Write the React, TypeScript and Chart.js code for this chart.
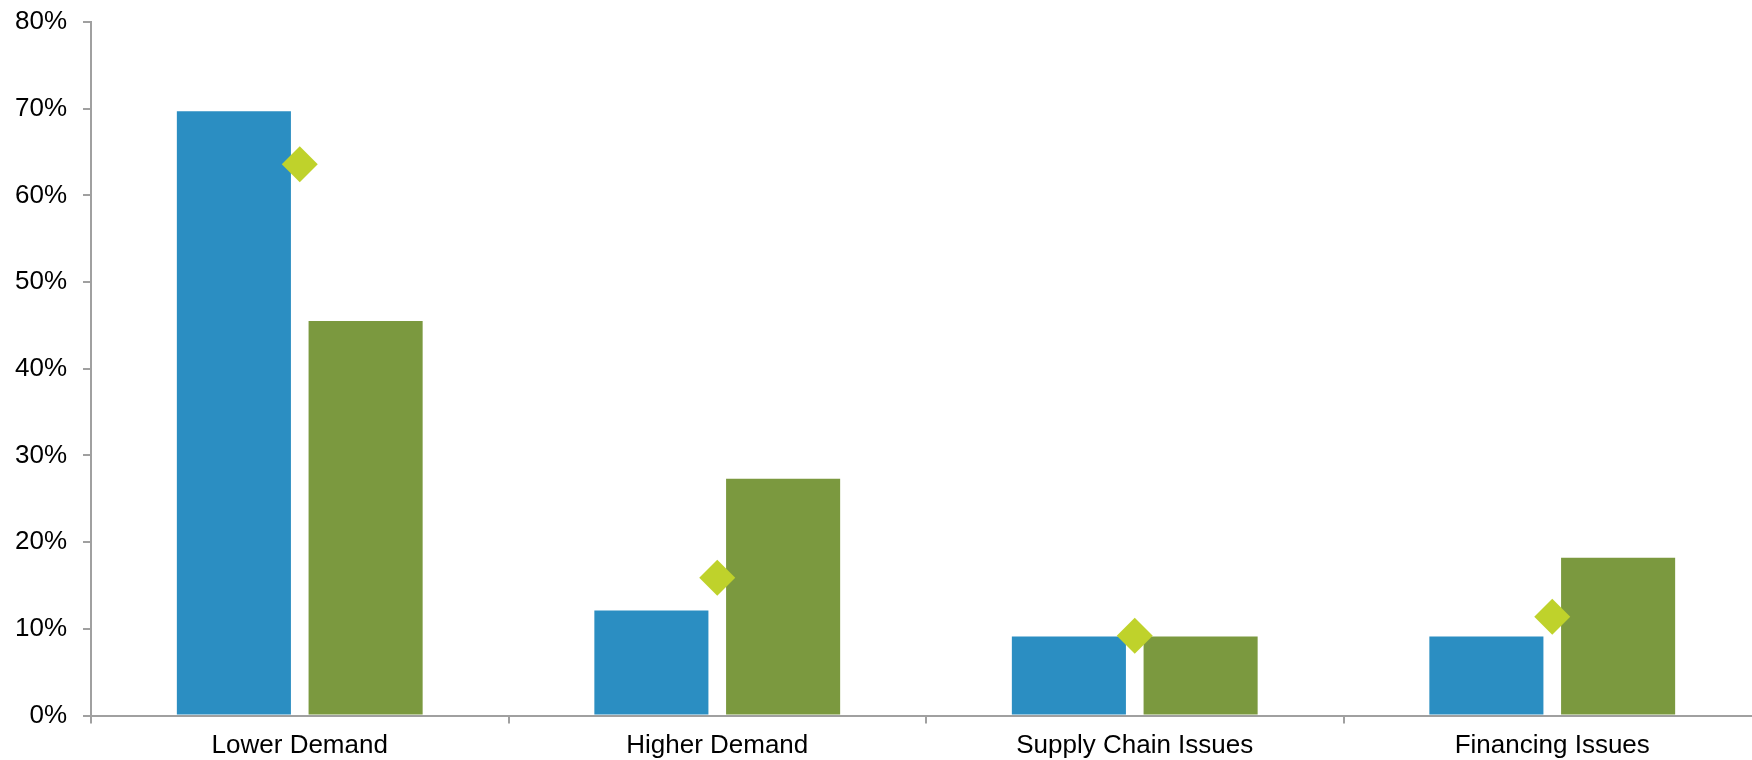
import { useEffect, useRef } from "react";
import { Chart, registerables } from "chart.js";

Chart.register(...registerables);

// Survey categories along the x axis
const categories = ["Lower Demand", "Higher Demand", "Supply Chain Issues", "Financing Issues"];

// Share of respondents (%) per category
const blueSeries = [69.7, 12.1, 9.1, 9.1];
const greenSeries = [45.5, 27.3, 9.1, 18.2];
const diamondSeries = [63.6, 15.9, 9.2, 11.4];

// Value axis range and step (%)
const yMin = 0;
const yMax = 80;
const yStep = 10;

const BLUE = "#2b8ec2";
const GREEN = "#7b993f";
const LIME = "#bfd22b";
const AXIS = "#a0a0a0";
const FONT = "'Liberation Sans', Arial, Helvetica, sans-serif";

export default function App() {
  const canvasRef = useRef<HTMLCanvasElement | null>(null);

  useEffect(() => {
    const canvas = canvasRef.current;
    if (!canvas) return;

    const chart = new Chart(canvas, {
      type: "bar",
      data: {
        labels: categories,
        datasets: [
          {
            type: "line",
            label: "Average",
            data: diamondSeries,
            showLine: false,
            pointStyle: "rectRot",
            pointRadius: 18,
            pointHoverRadius: 18,
            pointBackgroundColor: LIME,
            pointBorderWidth: 0,
            borderColor: LIME,
            backgroundColor: LIME,
            order: 0,
          },
          {
            type: "bar",
            label: "Series A",
            data: blueSeries,
            backgroundColor: BLUE,
            borderWidth: 0,
            barPercentage: 0.866,
            categoryPercentage: 0.631,
            order: 1,
          },
          {
            type: "bar",
            label: "Series B",
            data: greenSeries,
            backgroundColor: GREEN,
            borderWidth: 0,
            barPercentage: 0.866,
            categoryPercentage: 0.631,
            order: 1,
          },
        ],
      },
      options: {
        responsive: false,
        animation: false,
        devicePixelRatio: 1,
        layout: { autoPadding: false, padding: { top: 22, left: 15, right: 0, bottom: 0 } },
        plugins: {
          legend: { display: false },
          tooltip: { enabled: false },
        },
        scales: {
          x: {
            type: "category",
            offset: true,
            grid: {
              offset: true,
              drawOnChartArea: false,
              drawTicks: true,
              tickLength: 8,
              color: AXIS,
              lineWidth: 2,
            },
            border: { display: true, color: AXIS, width: 2 },
            ticks: {
              color: "#000",
              padding: 7,
              maxRotation: 0,
              autoSkip: false,
              font: { family: FONT, size: 26 },
            },
            // keep the plot flush with the canvas edges; labels fit inside their slots
            afterFit: (scale: any) => {
              scale.paddingLeft = 0;
              scale.paddingRight = 0;
              scale.height = 44.5;
            },
          },
          y: {
            min: yMin,
            max: yMax,
            grid: {
              drawOnChartArea: false,
              drawTicks: true,
              tickLength: 8,
              color: AXIS,
              lineWidth: 2,
            },
            border: { display: true, color: AXIS, width: 2 },
            ticks: {
              stepSize: yStep,
              color: "#000",
              padding: 16,
              font: { family: FONT, size: 26 },
              callback: (v) => `${v}%`,
            },
            afterFit: (scale: any) => {
              scale.paddingTop = 0;
              scale.paddingBottom = 0;
              scale.width = 76;
            },
          },
        },
      },
    });

    return () => chart.destroy();
  }, []);

  return (
    <div
      style={{
        position: "fixed",
        left: 0,
        top: 0,
        width: 1752,
        height: 760,
        overflow: "hidden",
        background: "#fff",
      }}
    >
      <canvas ref={canvasRef} width={1761} height={760} style={{ display: "block" }} />
    </div>
  );
}
